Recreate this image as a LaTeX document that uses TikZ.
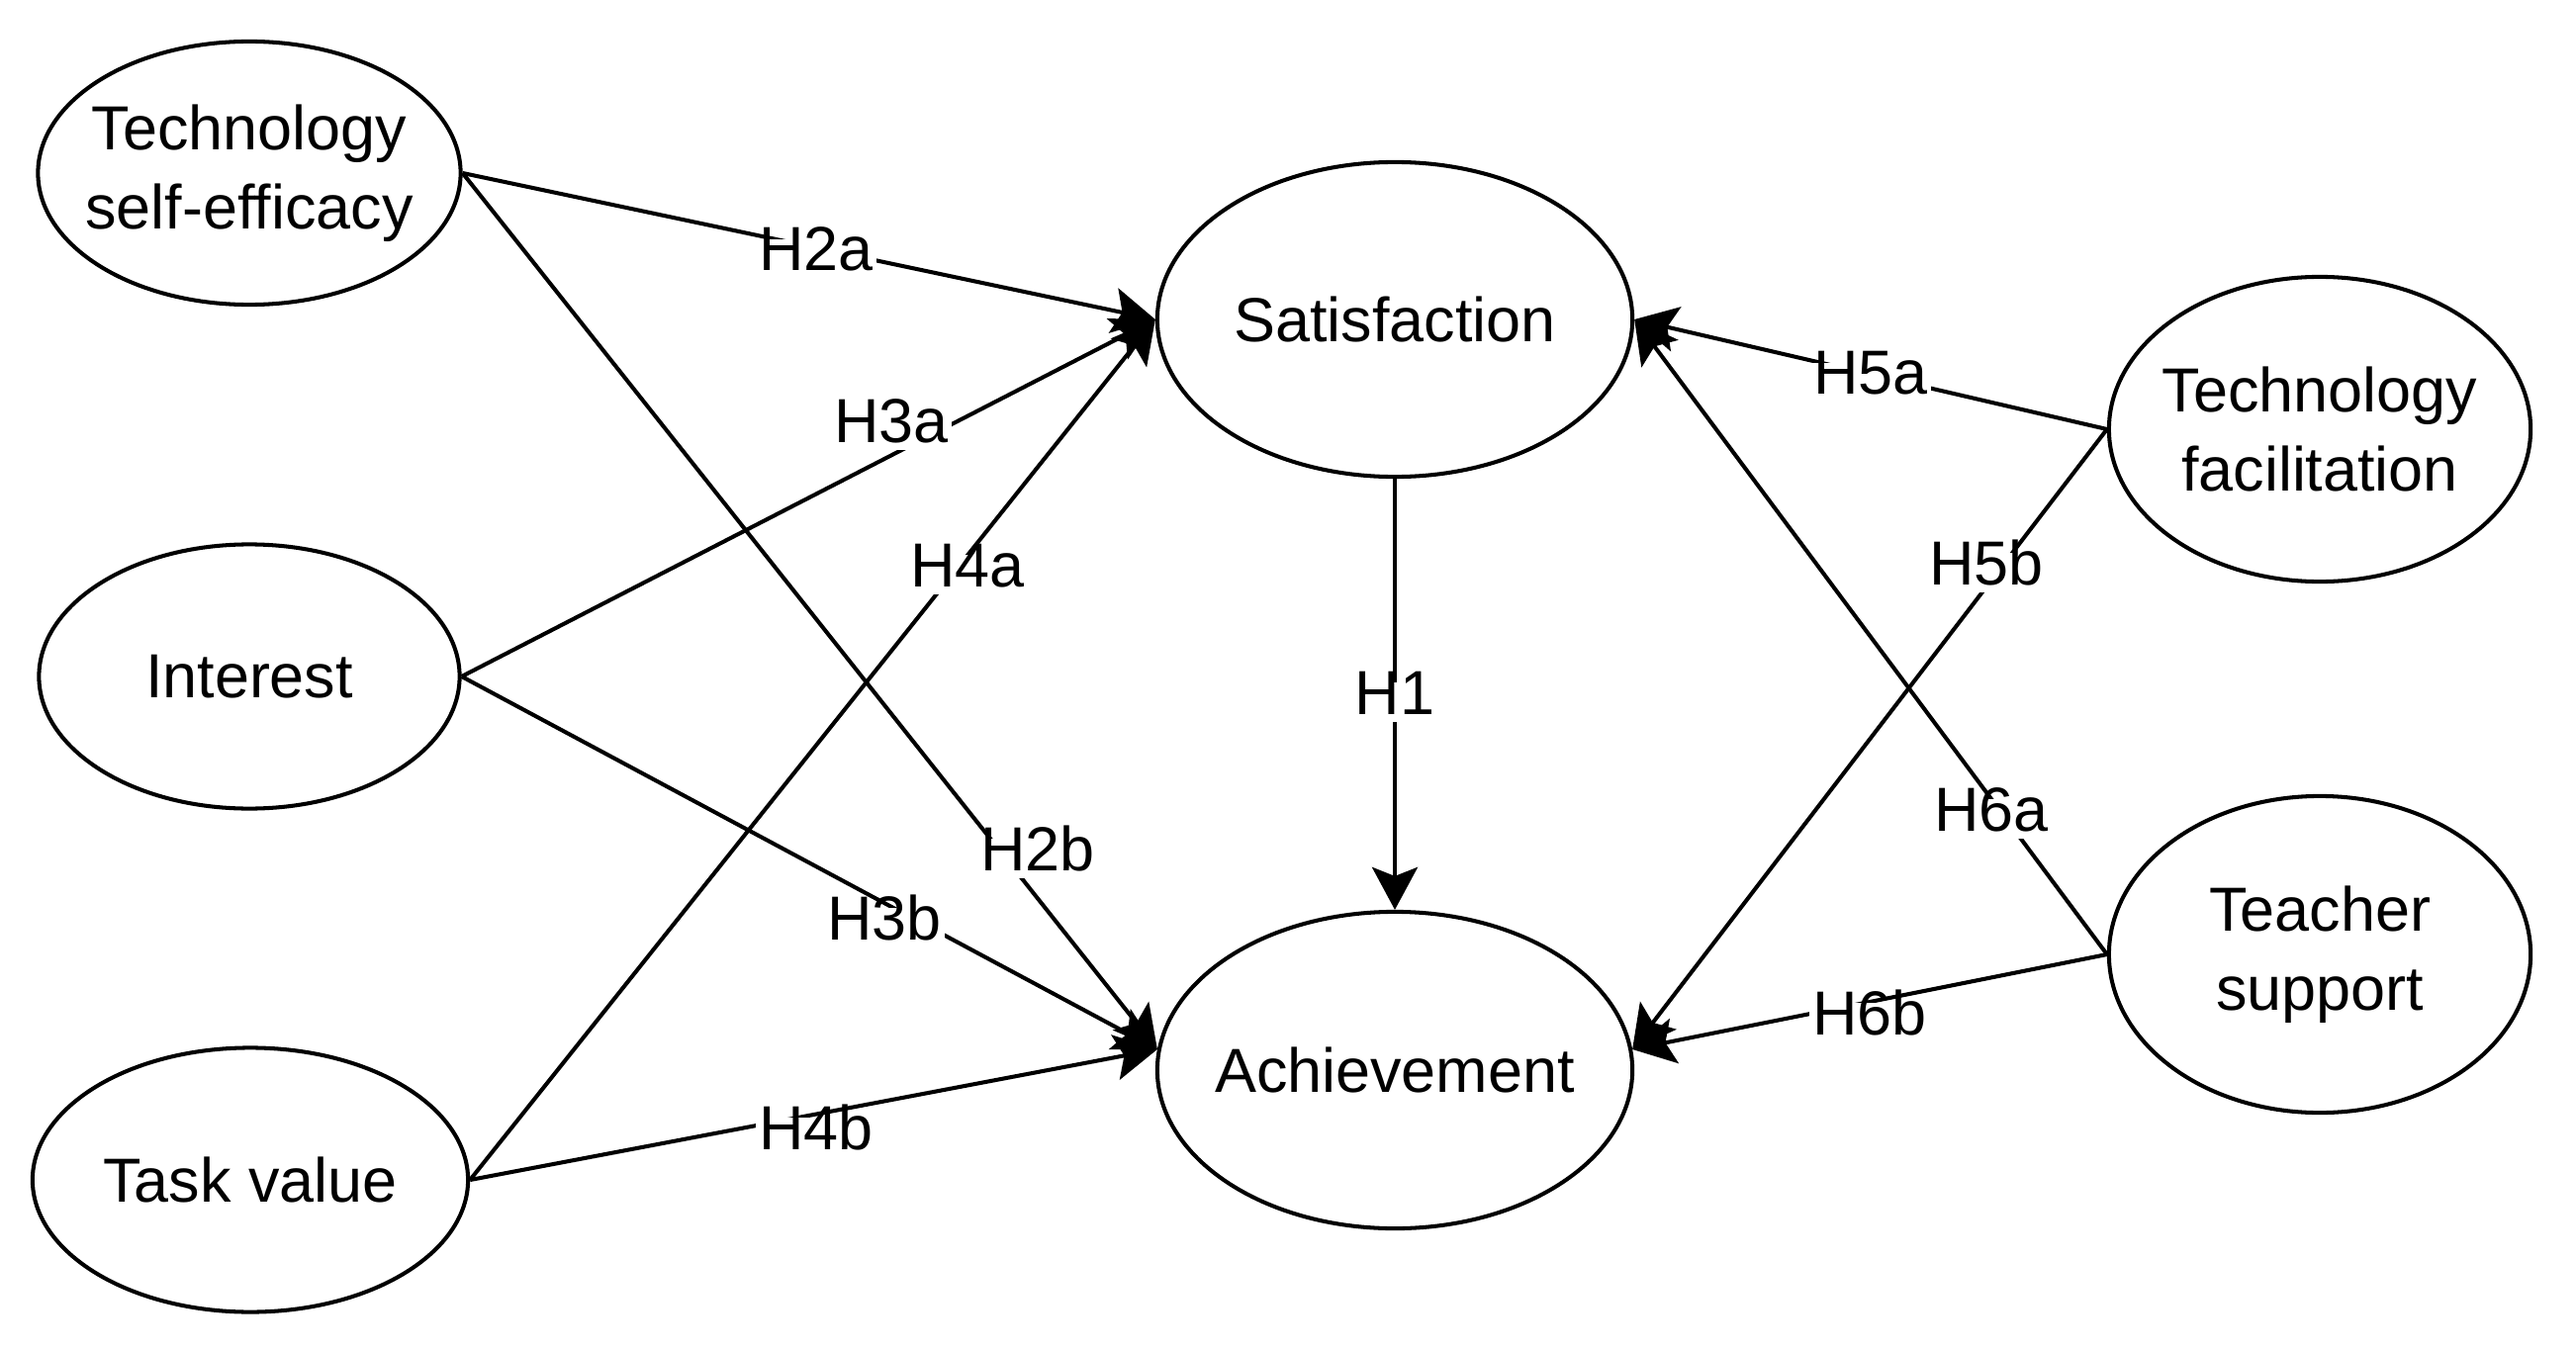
\documentclass[tikz,border=0pt]{standalone}
\usepackage{fontspec}
\setmainfont{Liberation Sans}
\usetikzlibrary{arrows.meta,shapes.geometric}
\begin{document}
\begin{tikzpicture}[x=0.01cm,y=-0.01cm,
  font=\fontsize{17.9}{22.7}\selectfont,
  lat/.style={draw, ellipse, line width=1.15pt, inner sep=0pt, fill=white},
  conn/.style={line width=1.15pt, -{Stealth[length=0.43cm,width=0.46cm,inset=0.09cm]}},
  hlab/.style={fill=white, inner xsep=0.03cm, inner ysep=0pt, text height=0.9em, text depth=0.24em, anchor=base}]
\useasboundingbox (0,0) rectangle (2604,1364);

% latent variables
\node[lat, minimum width=4.27cm, minimum height=2.66cm, label={[align=center]center:Technology\\self-efficacy}] (tse) at (252,175) {};
\node[lat, minimum width=4.25cm, minimum height=2.67cm, label={center:Interest}] (int) at (252,684) {};
\node[lat, minimum width=4.40cm, minimum height=2.67cm, label={center:Task value}] (tv)  at (253,1193) {};
\node[lat, minimum width=4.80cm, minimum height=3.18cm, label={center:Satisfaction}] (sat) at (1410,323) {};
\node[lat, minimum width=4.80cm, minimum height=3.20cm, label={center:Achievement}] (ach) at (1410,1082) {};
\node[lat, minimum width=4.26cm, minimum height=3.08cm, label={[align=center]center:Technology\\facilitation}] (tf)  at (2345,434) {};
\node[lat, minimum width=4.26cm, minimum height=3.20cm, label={[align=center]center:Teacher\\support}] (ts)  at (2345,965) {};

% connectors
\draw[conn] (tse.east) -- (sat.west);
\draw[conn] (tse.east) -- (ach.175);
\draw[conn] (int.east) -- (sat.west);
\draw[conn] (int.east) -- (ach.175);
\draw[conn] (tv.east) -- (sat.west);
\draw[conn] (tv.east) -- (ach.175);
\draw[conn] (sat.south) -- (ach.north);
\draw[conn] (tf.west) -- (sat.east);
\draw[conn] (tf.west) -- (ach.5);
\draw[conn] (ts.west) -- (sat.east);
\draw[conn] (ts.west) -- (ach.5);

% labels
\node[hlab] (l2a) at (825,274) {H2a};
\node[hlab] (l3a) at (901,447) {H3a};
\node[hlab] (l4a) at (978,593) {H4a};
\node[hlab] (l2b) at (1049,880) {H2b};
\node[hlab] (l3b) at (894,950) {H3b};
\node[hlab] (l4b) at (825,1162) {H4b};
\node[hlab] (l1)  at (1410,722) {H1};
\node[hlab] (l5a) at (1891,399) {H5a};
\node[hlab] (l5b) at (2008,591) {H5b};
\node[hlab] (l6a) at (2013,840) {H6a};
\node[hlab] (l6b) at (1890,1046) {H6b};
\end{tikzpicture}
\end{document}
